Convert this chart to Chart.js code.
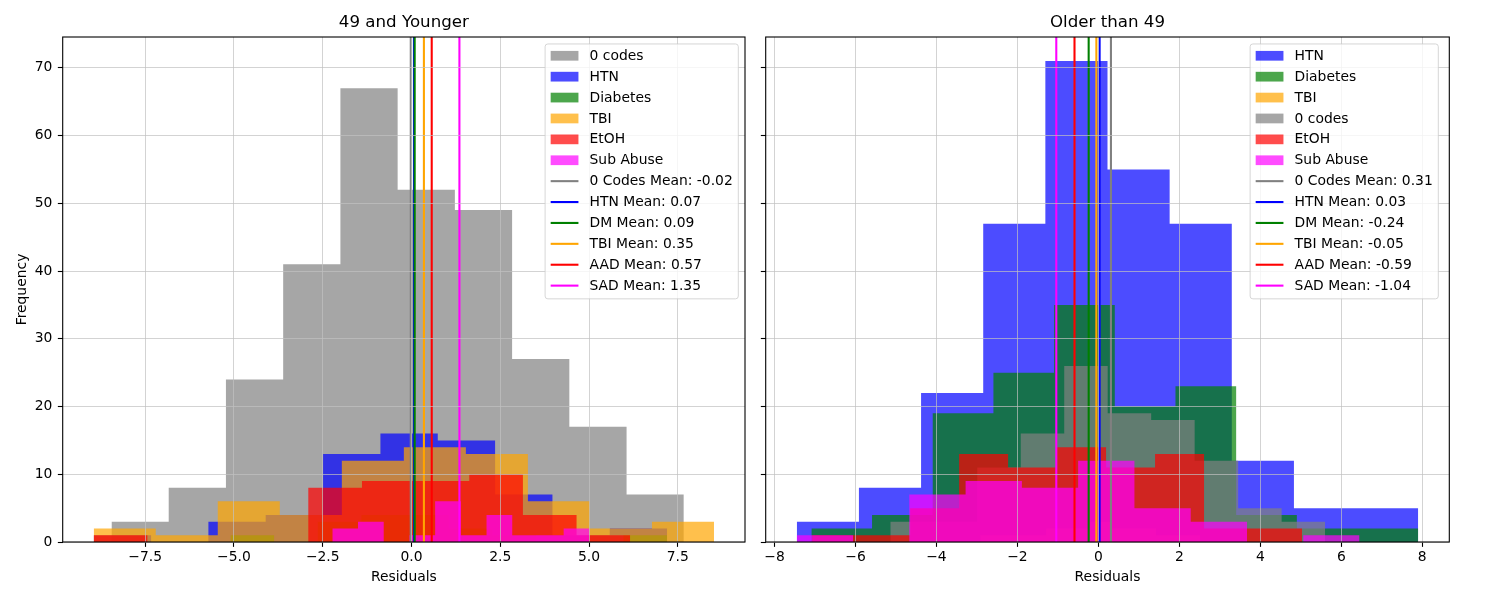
<!DOCTYPE html>
<html>
<head>
<meta charset="utf-8">
<script src="https://cdn.jsdelivr.net/npm/chart.js@4.4.1/dist/chart.umd.min.js"></script>
<style>
html,body{margin:0;padding:0;background:#fff;}
#wrap{position:relative;width:1500px;height:600px;overflow:hidden;}
#wrap canvas{position:absolute;top:0;}
</style>
</head>
<body>
<div id="wrap">
<canvas id="c1" width="750" height="600" style="left:0;width:750px;height:600px"></canvas>
<canvas id="c2" width="750" height="600" style="left:750px;width:750px;height:600px"></canvas>
</div>
<script>
// ---------------- data ----------------
const panelTitles = ['49 and Younger', 'Older than 49'];
const xLabelText = 'Residuals';
const yLabelText = 'Frequency';

const yTickValues = [0, 10, 20, 30, 40, 50, 60, 70];
const yTickLabels = ['0', '10', '20', '30', '40', '50', '60', '70'];

const youngXTickValues = [-7.5, -5, -2.5, 0, 2.5, 5, 7.5];
const youngXTickLabels = ['\u22127.5', '\u22125.0', '\u22122.5', '0.0', '2.5', '5.0', '7.5'];
const oldXTickValues = [-8, -6, -4, -2, 0, 2, 4, 6, 8];
const oldXTickLabels = ['\u22128', '\u22126', '\u22124', '\u22122', '0', '2', '4', '6', '8'];

// histograms: [first bin edge, last bin edge] with 10 equal bins, and counts per bin
// 49 and younger (plot order: 0 codes, HTN, Diabetes, TBI, EtOH, Sub Abuse)
const youngNames = ['0 codes', 'HTN', 'Diabetes', 'TBI', 'EtOH', 'Sub Abuse'];
const youngNoCodesRange = [-8.45, 7.67];
const youngNoCodesCounts = [3, 8, 24, 41, 67, 52, 49, 27, 17, 7];
const youngHtnRange = [-8.95, 7.20];
const youngHtnCounts = [1, 0, 3, 4, 13, 16, 15, 7, 1, 2];
const youngDmRange = [-5.10, 7.20];
const youngDmCounts = [1, 0, 3, 4, 4, 2, 1, 0, 0, 1];
const youngTbiRange = [-8.95, 8.52];
const youngTbiCounts = [2, 1, 6, 4, 12, 14, 13, 6, 2, 3];
const youngEtohRange = [-8.95, 6.16];
const youngEtohCounts = [1, 0, 0, 0, 8, 9, 9, 10, 4, 1];
const youngSubRange = [-2.23, 5.01];
const youngSubCounts = [2, 3, 0, 1, 6, 1, 4, 1, 1, 2];

// older than 49 (plot order: HTN, Diabetes, TBI, 0 codes, EtOH, Sub Abuse)
const oldNames = ['HTN', 'Diabetes', 'TBI', '0 codes', 'EtOH', 'Sub Abuse'];
const oldHtnRange = [-7.45, 7.90];
const oldHtnCounts = [3, 8, 22, 47, 71, 55, 47, 12, 5, 5];
const oldDmRange = [-7.09, 7.90];
const oldDmCounts = [2, 4, 19, 25, 35, 20, 23, 4, 2, 2];
const oldTbiRange = [-2.92, 2.51];
const oldTbiCounts = [1, 1, 1, 2, 2, 3, 2, 2, 1, 1];
const oldNoCodesRange = [-5.14, 5.60];
const oldNoCodesCounts = [3, 3, 11, 16, 26, 19, 18, 12, 5, 3];
const oldEtohRange = [-7.07, 5.03];
const oldEtohCounts = [1, 1, 5, 13, 11, 14, 11, 13, 2, 2];
const oldSubRange = [-7.45, 6.45];
const oldSubCounts = [1, 0, 7, 9, 8, 12, 5, 3, 0, 1];

// mean lines (order: 0 codes, HTN, DM, TBI, AAD, SAD)
const meanNames = ['0 Codes Mean', 'HTN Mean', 'DM Mean', 'TBI Mean', 'AAD Mean', 'SAD Mean'];
const youngMeans = [-0.02, 0.07, 0.09, 0.35, 0.57, 1.35];
const oldMeans = [0.31, 0.03, -0.24, -0.05, -0.59, -1.04];

// ---------------- styling ----------------
const FONT = 'DejaVu Sans';
const FS = 13.89;
const COL = {
  gray: [128, 128, 128], blue: [0, 0, 255], green: [0, 128, 0],
  orange: [255, 165, 0], red: [255, 0, 0], magenta: [255, 0, 255]
};
const rgba = (c, a) => `rgba(${c[0]},${c[1]},${c[2]},${a})`;
const meanColors = [COL.gray, COL.blue, COL.green, COL.orange, COL.red, COL.magenta];
const GRID = 'rgba(192,192,192,0.7)';

const youngHists = [
  [youngNoCodesRange, youngNoCodesCounts, COL.gray],
  [youngHtnRange, youngHtnCounts, COL.blue],
  [youngDmRange, youngDmCounts, COL.green],
  [youngTbiRange, youngTbiCounts, COL.orange],
  [youngEtohRange, youngEtohCounts, COL.red],
  [youngSubRange, youngSubCounts, COL.magenta]
];
const oldHists = [
  [oldHtnRange, oldHtnCounts, COL.blue],
  [oldDmRange, oldDmCounts, COL.green],
  [oldTbiRange, oldTbiCounts, COL.orange],
  [oldNoCodesRange, oldNoCodesCounts, COL.gray],
  [oldEtohRange, oldEtohCounts, COL.red],
  [oldSubRange, oldSubCounts, COL.magenta]
];

const allCounts = [].concat(...youngHists.map(h => h[1]), ...oldHists.map(h => h[1]));
const yMax = Math.max(...allCounts) * 1.05;

function histPoints(range, counts) {
  const n = counts.length, w = (range[1] - range[0]) / n;
  const pts = counts.map((c, i) => ({x: range[0] + i * w, y: c}));
  pts.push({x: range[1], y: 0});
  return pts;
}

function buildDatasets(hists, names, means) {
  const ds = [];
  const total = hists.length + means.length;
  hists.forEach((h, i) => {
    ds.push({
      type: 'line', label: names[i], data: histPoints(h[0], h[1]),
      stepped: 'before', fill: 'origin', borderWidth: 0, borderColor: 'rgba(0,0,0,0)',
      backgroundColor: rgba(h[2], 0.7), pointRadius: 0, pointHoverRadius: 0,
      order: total + 10 - i
    });
  });
  means.forEach((m, j) => {
    ds.push({
      type: 'line', label: meanNames[j],
      data: [{x: m, y: 0}, {x: m, y: yMax}],
      borderColor: rgba(meanColors[j], 1), borderWidth: 2.08, fill: false,
      pointRadius: 0, pointHoverRadius: 0, order: means.length - j
    });
  });
  return ds;
}

function xLimits(hists) {
  const lo = Math.min(...hists.map(h => h[0][0]));
  const hi = Math.max(...hists.map(h => h[0][1]));
  const pad = 0.05 * (hi - lo);
  return [lo - pad, hi + pad];
}

function legendItems(hists, names, means) {
  const items = hists.map((h, i) => ({type: 'patch', label: names[i], color: rgba(h[2], 0.7)}));
  means.forEach((m, j) => items.push({type: 'line', label: meanNames[j] + ': ' + m.toFixed(2), color: rgba(meanColors[j], 1)}));
  return items;
}

// frame + matplotlib-style legend
const mplPlugin = {
  id: 'mplFrameLegend',
  afterDraw(chart, args, opts) {
    const ctx = chart.ctx, a = chart.chartArea;
    ctx.save();
    ctx.strokeStyle = '#000';
    ctx.lineWidth = 1.1;
    ctx.strokeRect(a.left, a.top, a.right - a.left, a.bottom - a.top);

    const items = opts.items || [];
    ctx.font = `${FS}px "${FONT}"`;
    const maxW = Math.max(...items.map(it => ctx.measureText(it.label).width));
    const bp = 0.4 * FS, hl = 2 * FS, htp = 0.8 * FS;
    const rowH = 13.95, gap = 0.5 * FS;
    const boxW = bp + hl + htp + maxW + bp;
    const boxH = 2 * bp + items.length * rowH + (items.length - 1) * gap;
    const right = a.right - opts.rightOffset;
    const left = right - boxW;
    const top = a.top + 0.5 * FS;
    const r = 0.2 * FS;
    ctx.beginPath();
    ctx.moveTo(left + r, top);
    ctx.lineTo(right - r, top);
    ctx.arcTo(right, top, right, top + r, r);
    ctx.lineTo(right, top + boxH - r);
    ctx.arcTo(right, top + boxH, right - r, top + boxH, r);
    ctx.lineTo(left + r, top + boxH);
    ctx.arcTo(left, top + boxH, left, top + boxH - r, r);
    ctx.lineTo(left, top + r);
    ctx.arcTo(left, top, left + r, top, r);
    ctx.closePath();
    ctx.fillStyle = 'rgba(255,255,255,0.8)';
    ctx.fill();
    ctx.strokeStyle = 'rgba(204,204,204,0.8)';
    ctx.lineWidth = 1;
    ctx.stroke();

    items.forEach((it, i) => {
      const cy = top + bp + i * (rowH + gap) + rowH / 2 - 0.7;
      const hx = left + bp;
      if (it.type === 'patch') {
        ctx.fillStyle = it.color;
        ctx.fillRect(hx, cy - 0.35 * FS, hl, 0.7 * FS);
      } else {
        ctx.strokeStyle = it.color;
        ctx.lineWidth = 2.08;
        ctx.beginPath();
        ctx.moveTo(hx, cy);
        ctx.lineTo(hx + hl, cy);
        ctx.stroke();
      }
      ctx.fillStyle = '#000';
      ctx.textBaseline = 'middle';
      ctx.textAlign = 'left';
      ctx.fillText(it.label, hx + hl + htp, cy + 0.5);
    });
    ctx.restore();
  }
};

function makeChart(canvasId, cfg) {
  const lim = xLimits(cfg.hists);
  return new Chart(document.getElementById(canvasId), {
    type: 'line',
    data: {datasets: buildDatasets(cfg.hists, cfg.names, cfg.means)},
    plugins: [mplPlugin],
    options: {
      responsive: false, animation: false, events: [],
      layout: {padding: {left: 0, right: cfg.rightPad, top: 0, bottom: 0}},
      plugins: {
        legend: {display: false},
        tooltip: {enabled: false},
        title: {
          display: true, text: cfg.title, fullSize: false, color: '#000',
          font: {family: FONT, size: 16.67, weight: 'normal', lineHeight: 1.2},
          padding: {top: 13, bottom: 4}
        },
        mplFrameLegend: {items: legendItems(cfg.hists, cfg.names, cfg.means), rightOffset: cfg.legendOffset}
      },
      scales: {
        x: {
          type: 'linear', position: 'bottom', min: lim[0], max: lim[1],
          afterFit: s => { s.height = 58; },
          afterBuildTicks: s => { s.ticks = cfg.xTicks.map(v => ({value: v})); },
          ticks: {
            autoSkip: false, maxRotation: 0, minRotation: 0, color: '#000', padding: 2.5,
            font: {family: FONT, size: FS, lineHeight: 1.2},
            callback: (v, i) => cfg.xTickLabels[i]
          },
          grid: {color: GRID, lineWidth: 1, drawTicks: true, tickLength: 4.86, tickColor: '#000', tickWidth: 1.1, z: 1},
          border: {display: false},
          title: {
            display: true, text: xLabelText, color: '#000',
            font: {family: FONT, size: FS, lineHeight: 1.2},
            padding: {top: 0, bottom: 14.6}
          }
        },
        y: {
          type: 'linear', position: 'left', min: 0, max: yMax,
          afterFit: s => { s.width = cfg.yWidth; },
          afterBuildTicks: s => { s.ticks = yTickValues.map(v => ({value: v})); },
          ticks: {
            display: cfg.showY, color: '#000', padding: 5.5,
            font: {family: FONT, size: FS, lineHeight: 1.2},
            callback: (v, i) => yTickLabels[i]
          },
          grid: {color: GRID, lineWidth: 1, drawTicks: true, tickLength: 4.86, tickColor: '#000', tickWidth: 1.1, z: 1},
          border: {display: false},
          title: {
            display: cfg.showY, text: yLabelText, color: '#000',
            font: {family: FONT, size: FS, lineHeight: 1.2},
            padding: {top: 13.7, bottom: 0}
          }
        }
      }
    }
  });
}

makeChart('c1', {
  title: panelTitles[0], hists: youngHists, names: youngNames, means: youngMeans,
  xTicks: youngXTickValues, xTickLabels: youngXTickLabels,
  yWidth: 62.7, rightPad: 5, showY: true, legendOffset: 6.7
});
makeChart('c2', {
  title: panelTitles[1], hists: oldHists, names: oldNames, means: oldMeans,
  xTicks: oldXTickValues, xTickLabels: oldXTickLabels,
  yWidth: 15.7, rightPad: 50.7, showY: false, legendOffset: 11
});
</script>
</body>
</html>
